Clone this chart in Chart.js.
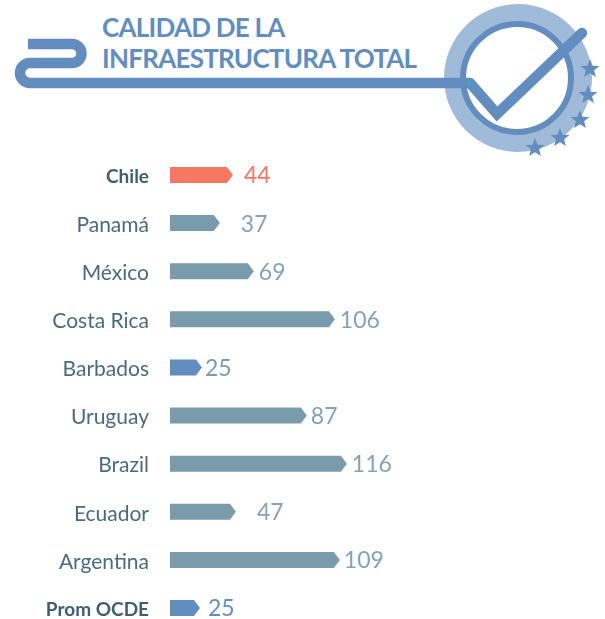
<!DOCTYPE html>
<html lang="es">
<head>
<meta charset="utf-8">
<title>Calidad de la infraestructura total</title>
<script src="https://cdn.jsdelivr.net/npm/chart.js@4"></script>
<style>
  html, body { margin: 0; padding: 0; background: #fff; overflow: hidden; }
  #wrap { position: relative; width: 605px; height: 619px; }
  #logo { position: absolute; left: 0; top: 0; }
  #titulo {
    position: absolute; left: 102px; top: 12px; margin: 0;
    font: 700 26px/31px Lato, sans-serif; letter-spacing: -0.75px; color: #628dbe; white-space: nowrap;
  }
  #citasWrap { position: absolute; left: 0; top: 0; width: 605px; height: 619px; }
</style>
</head>
<body>
<div id="wrap">
  <svg id="logo" width="605" height="170" viewBox="0 0 605 170">
    <defs>
      <polygon id="star" points="0,-10 2.6,-3.2 9.5,-3.1 4.1,1.2 5.9,8.1 0,4.2 -5.9,8.1 -4.1,1.2 -9.5,-3.1 -2.6,-3.2" fill="#628dbe"/>
    </defs>
    <circle cx="518" cy="78" r="74" fill="#a0bbd9"/>
    <circle cx="517" cy="78" r="54" fill="#fff" stroke="#628dbe" stroke-width="6"/>
    <path d="M28 44 H72 A9.5 9.5 0 0 1 72 63 H30 A10 10 0 0 0 30 83 H470" fill="none" stroke="#628dbe" stroke-width="10.5"/>
    <path d="M470 83 L497 114 L582 33" fill="none" stroke="#628dbe" stroke-width="10.5" stroke-linecap="round" stroke-linejoin="miter"/>
    <path d="M468 79 L473 83 L468 87 Z" fill="#3aa6c8"/>
    <use href="#star" x="590" y="69"/>
    <use href="#star" x="588" y="95"/>
    <use href="#star" x="580" y="120"/>
    <use href="#star" x="560" y="138"/>
    <use href="#star" x="535" y="148"/>
  </svg>
  <h1 id="titulo">CALIDAD DE LA<br>INFRAESTRUCTURA TOTAL</h1>
  <div id="citasWrap"><canvas id="rankingChart" width="605" height="619"></canvas></div>
</div>
<script>
const paises = ['Chile', 'Panamá', 'México', 'Costa Rica', 'Barbados', 'Uruguay', 'Brazil', 'Ecuador', 'Argentina', 'Prom OCDE'];
// numero impreso junto a cada barra
const ranking = [44, 37, 69, 106, 25, 87, 116, 47, 109, 25];
// largo de barra leido del grafico, no es proporcional al numero impreso
const largoBarra = [40.4, 32, 53.8, 105.8, 20.5, 87.8, 113.5, 42.3, 109, 19.2];

const colorBarra = ['#f67862', '#7a9bab', '#7a9bab', '#7a9bab', '#628dbe', '#7a9bab', '#7a9bab', '#7a9bab', '#7a9bab', '#628dbe'];
const colorNumero = ['#f67862', '#83a3b5', '#83a3b5', '#83a3b5', '#7a9bab', '#83a3b5', '#83a3b5', '#83a3b5', '#83a3b5', '#628dbe'];
const separacion = [11, 21, 5, 5, 3, 4, 5, 21, 4, 8];
const negrita = ['Chile', 'Prom OCDE'];

// dibuja las barras con punta de flecha y el numero a su derecha
const barrasFlecha = {
  id: 'barrasFlecha',
  beforeDatasetDraw(chart, args) {
    const ctx = chart.ctx;
    args.meta.data.forEach((bar, i) => {
      const alto = 16;
      const punta = 6;
      ctx.fillStyle = colorBarra[i];
      ctx.beginPath();
      ctx.moveTo(bar.base, bar.y - alto / 2);
      ctx.lineTo(bar.x - punta, bar.y - alto / 2);
      ctx.lineTo(bar.x, bar.y);
      ctx.lineTo(bar.x - punta, bar.y + alto / 2);
      ctx.lineTo(bar.base, bar.y + alto / 2);
      ctx.closePath();
      ctx.fill();

      ctx.fillStyle = colorNumero[i];
      ctx.font = '400 23px Lato, sans-serif';
      ctx.textAlign = 'left';
      ctx.textBaseline = 'middle';
      ctx.fillText(ranking[i], bar.x + separacion[i], bar.y + 1);
    });
    return false;
  }
};

new Chart(document.getElementById('rankingChart').getContext('2d'), {
  type: 'bar',
  data: {
    labels: paises,
    datasets: [{ data: largoBarra, backgroundColor: colorBarra, barThickness: 16 }]
  },
  plugins: [barrasFlecha],
  options: {
    indexAxis: 'y',
    responsive: false,
    animation: false,
    layout: { padding: { top: 175, bottom: 11, left: 0, right: 248 } },
    plugins: { legend: { display: false }, tooltip: { enabled: false } },
    scales: {
      x: { display: false, min: 0, max: 120 },
      y: {
        offset: false,
        grid: { display: false },
        border: { display: false },
        afterFit(scale) {
          scale.width = 170;
          scale.paddingTop = 0;
          scale.paddingBottom = 0;
        },
        ticks: {
          autoSkip: false,
          padding: 13,
          labelOffset: 2,
          color: (c) => negrita.includes(paises[c.index]) ? '#3f5f70' : '#4a6b7c',
          font: (c) => negrita.includes(paises[c.index])
            ? { family: 'Lato, sans-serif', size: 19, weight: 'bold' }
            : { family: 'Lato, sans-serif', size: 21, weight: 'normal' }
        }
      }
    }
  }
});
</script>
</body>
</html>
